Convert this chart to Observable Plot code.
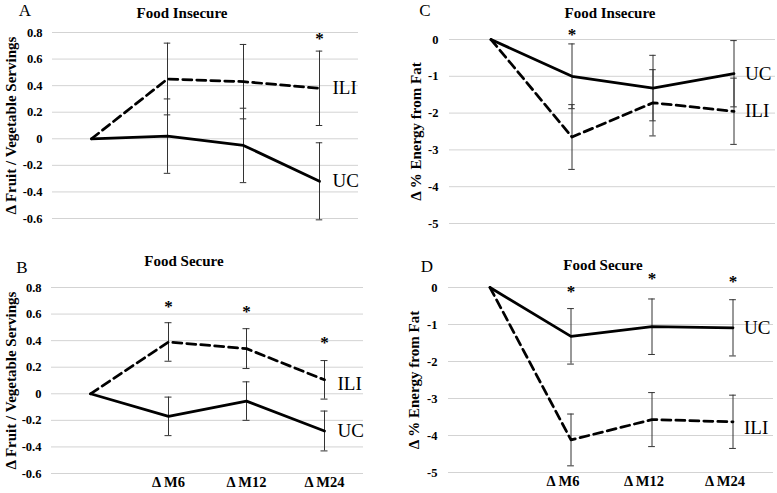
<!DOCTYPE html>
<html><head><meta charset="utf-8">
<script src="https://cdn.jsdelivr.net/npm/d3@7"></script>
<script src="https://cdn.jsdelivr.net/npm/@observablehq/plot@0.6"></script>
<style>
body{margin:0;background:#fff;}
#chart{position:relative;width:777px;height:493px;overflow:hidden;background:#fff;font-family:'Liberation Serif',serif;}
.panel{position:absolute;}
#chart svg, #chart svg text{font-family:'Liberation Serif',serif;}
</style></head><body><div id="chart"></div>
<script>
// ---- data ----
const timepoints = ["M0", "M6", "M12", "M24"];
const timeLabels = ["", "Δ M6", "Δ M12", "Δ M24"];
const fruitTicks = [0.8, 0.6, 0.4, 0.2, 0, -0.2, -0.4, -0.6];
const fatTicks = [0, -1, -2, -3, -4, -5];

// A: fruit/vegetable servings, food insecure
const fvInsecureILI = [0, 0.45, 0.43, 0.38];
const fvInsecureILIErr = [0, 0.27, 0.28, 0.28];
const fvInsecureUC = [0, 0.02, -0.05, -0.32];
const fvInsecureUCErr = [0, 0.28, 0.28, 0.29];
const fvInsecureStars = ["M24"];
const fvInsecureStarY = [0.78];

// B: fruit/vegetable servings, food secure
const fvSecureILI = [0, 0.39, 0.34, 0.105];
const fvSecureILIErr = [0, 0.145, 0.15, 0.145];
const fvSecureUC = [0, -0.17, -0.055, -0.28];
const fvSecureUCErr = [0, 0.145, 0.145, 0.15];
const fvSecureStars = ["M6", "M12", "M24"];
const fvSecureStarY = [0.68, 0.64, 0.41];

// C: % energy from fat, food insecure
const fatInsecureUC = [0, -1.0, -1.32, -0.93];
const fatInsecureUCErr = [0, 0.88, 0.89, 0.9];
const fatInsecureILI = [0, -2.65, -1.72, -1.95];
const fatInsecureILIErr = [0, 0.88, 0.9, 0.9];
const fatInsecureStars = ["M6"];
const fatInsecureStarY = [0.22];

// D: % energy from fat, food secure
const fatSecureUC = [0, -1.32, -1.06, -1.09];
const fatSecureUCErr = [0, 0.75, 0.75, 0.76];
const fatSecureILI = [0, -4.12, -3.57, -3.63];
const fatSecureILIErr = [0, 0.7, 0.73, 0.72];
const fatSecureStars = ["M6", "M12", "M24"];
const fatSecureStarY = [-0.03, 0.33, 0.24];

// ---- drawing ----
const FONT = "Liberation Serif";
const rows = (vals, errs) => timepoints.map((t, i) => ({t, v: vals[i], e: errs[i]}));

function panel(cfg) {
  const ili = rows(cfg.ili, cfg.iliErr);
  const uc = rows(cfg.uc, cfg.ucErr);
  const bars = [...ili, ...uc].filter(d => d.t !== timepoints[0]);
  const stars = cfg.stars.map((t, i) => ({t, v: cfg.starY[i]}));
  const lastIli = ili[ili.length - 1], lastUc = uc[uc.length - 1];
  const bw = (cfg.width - cfg.ml - cfg.mr) / timepoints.length;
  const capInset = bw / 2 - 3.5;
  const marks = [
    Plot.ruleY(cfg.ticks, {stroke: "#d3d3d3", strokeWidth: 1}),
    Plot.axisY(cfg.ticks, {tickSize: 0, tickPadding: cfg.tickPadding, tickFormat: d => String(d),
      fontSize: 12.5, fontWeight: "bold", fontFamily: FONT, label: null}),
    Plot.ruleX(bars, {x: "t", y1: d => d.v - d.e, y2: d => d.v + d.e, stroke: "#333", strokeWidth: 1}),
    Plot.tickY(bars, {x: "t", y: d => d.v + d.e, insetLeft: capInset, insetRight: capInset, stroke: "#333", strokeWidth: 1}),
    Plot.tickY(bars, {x: "t", y: d => d.v - d.e, insetLeft: capInset, insetRight: capInset, stroke: "#333", strokeWidth: 1}),
    Plot.line(uc, {x: "t", y: "v", stroke: "#000", strokeWidth: 2.75}),
    Plot.line(ili, {x: "t", y: "v", stroke: "#000", strokeWidth: 2.75, strokeDasharray: "9,5"}),
    Plot.text(stars, {x: "t", y: "v", text: () => "*", fontSize: 17, fontWeight: "bold", fontFamily: FONT, dy: 3}),
    Plot.text([lastIli], {x: "t", y: "v", text: () => "ILI", textAnchor: "start", dx: cfg.labelDx, dy: cfg.iliDy || 0, fontSize: 19, fontFamily: FONT}),
    Plot.text([lastUc], {x: "t", y: "v", text: () => "UC", textAnchor: "start", dx: cfg.labelDx, dy: cfg.ucDy || 0, fontSize: 19, fontFamily: FONT}),
    Plot.text([cfg.yTitle], {frameAnchor: "left", textAnchor: "middle", text: d => d, rotate: -90,
      dx: cfg.yTitleDx, fontSize: 15, fontWeight: "bold", fontFamily: FONT})
  ];
  if (cfg.showX) {
    marks.push(Plot.axisX(timepoints.slice(1), {tickSize: 0, tickPadding: 3, dx: cfg.xdx || 0,
      tickFormat: d => timeLabels[timepoints.indexOf(d)], fontSize: 14.5, fontWeight: "bold", fontFamily: FONT, label: null}));
  }
  const svg = Plot.plot({
    width: cfg.width, height: cfg.height,
    marginLeft: cfg.ml, marginRight: cfg.mr, marginTop: cfg.mt, marginBottom: cfg.mb,
    style: {color: "#000", background: "#fff", overflow: "visible"},
    x: {type: "band", domain: timepoints, padding: 0, axis: null},
    y: {domain: cfg.domain, axis: null},
    marks
  });
  const s = d3.select(svg);
  s.append("text").attr("x", cfg.letter[1]).attr("y", cfg.letter[2]).attr("font-size", 17)
    .attr("font-family", FONT).attr("fill", "#000").text(cfg.letter[0]);
  s.append("text").attr("x", cfg.title[1]).attr("y", cfg.title[2]).attr("font-size", 15)
    .attr("font-weight", "bold").attr("text-anchor", "middle")
    .attr("font-family", FONT).attr("fill", "#000").text(cfg.title[0]);
  const div = document.createElement("div");
  div.className = "panel";
  div.style.left = cfg.left + "px";
  div.style.top = cfg.top + "px";
  div.appendChild(svg);
  document.getElementById("chart").appendChild(div);
}

panel({left: 0, top: 0, width: 390, height: 245, ml: 52, mr: 32, mt: 32, mb: 27,
  domain: [-0.6, 0.8], ticks: fruitTicks, tickPadding: 10,
  ili: fvInsecureILI, iliErr: fvInsecureILIErr, uc: fvInsecureUC, ucErr: fvInsecureUCErr,
  stars: fvInsecureStars, starY: fvInsecureStarY, labelDx: 13,
  yTitle: "Δ Fruit / Vegetable Servings", yTitleDx: -41,
  letter: ["A", 25, 16], title: ["Food Insecure", 182, 18], showX: false});

panel({left: 0, top: 245, width: 390, height: 248, ml: 51, mr: 27, mt: 42, mb: 20,
  domain: [-0.6, 0.8], ticks: fruitTicks, tickPadding: 10,
  ili: fvSecureILI, iliErr: fvSecureILIErr, uc: fvSecureUC, ucErr: fvSecureUCErr,
  stars: fvSecureStars, starY: fvSecureStarY, labelDx: 13, iliDy: 4,
  yTitle: "Δ Fruit / Vegetable Servings", yTitleDx: -40,
  letter: ["B", 22, 28], title: ["Food Secure", 184, 21], showX: true});

panel({left: 390, top: 0, width: 387, height: 245, ml: 59, mr: 2, mt: 39, mb: 22,
  domain: [-5, 0], ticks: fatTicks, tickPadding: 11,
  ili: fatInsecureILI, iliErr: fatInsecureILIErr, uc: fatInsecureUC, ucErr: fatInsecureUCErr,
  stars: fatInsecureStars, starY: fatInsecureStarY, labelDx: 11,
  yTitle: "Δ % Energy from Fat", yTitleDx: -33,
  letter: ["C", 35, 16], title: ["Food Insecure", 220, 18], showX: false});

panel({left: 390, top: 245, width: 387, height: 248, ml: 58, mr: 4, mt: 42, mb: 21,
  domain: [-5, 0], ticks: fatTicks, tickPadding: 11,
  ili: fatSecureILI, iliErr: fatSecureILIErr, uc: fatSecureUC, ucErr: fatSecureUCErr,
  stars: fatSecureStars, starY: fatSecureStarY, labelDx: 11, iliDy: 6,
  yTitle: "Δ % Energy from Fat", yTitleDx: -34,
  letter: ["D", 37, 27], title: ["Food Secure", 213, 25], showX: true, xdx: -8});
</script>
</body></html>
